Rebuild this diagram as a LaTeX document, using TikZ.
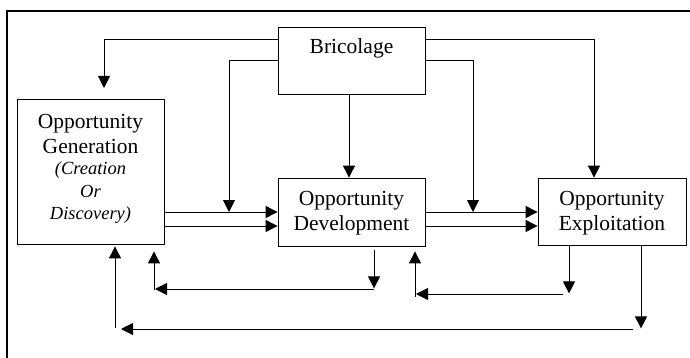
\documentclass[tikz,border=0pt]{standalone}
\usepackage{fontspec}
\setmainfont{Liberation Serif}
\usetikzlibrary{arrows.meta,calc}
\begin{document}
\begin{tikzpicture}[x=1pt,y=-1pt,
  box/.style={draw,line width=0.8pt,inner sep=0pt},
  txt/.style={font=\fontsize{21.5}{25}\selectfont,anchor=base,inner sep=0pt},
  itxt/.style={font=\fontsize{18.5}{22}\selectfont\itshape,anchor=base,inner sep=0pt},
  arr/.style={line width=0.9pt,-{Triangle[length=12pt,width=12pt]}}]
\useasboundingbox (0,0) rectangle (690,358);
\draw[line width=2pt] (7,358) -- (7,11) -- (690,11);
% boxes
\node[box,minimum width=147pt,minimum height=67pt] (bric) at (351.5,60.5) {};
\node[txt] (tbric) at (351.5,54) {Bricolage};
\node[box,minimum width=147pt,minimum height=145pt] (gen) at (90.5,171.5) {};
\node[txt] (tg1) at (90.5,129) {Opportunity};
\node[txt] (tg2) at (90.5,154) {Generation};
\node[itxt] (tg3) at (90.5,175) {(Creation};
\node[itxt] (tg4) at (90.5,197) {Or};
\node[itxt] (tg5) at (90.5,219) {Discovery)};
\node[box,minimum width=147pt,minimum height=68pt] (dev) at (351.5,212) {};
\node[txt] (td1) at (351.5,205) {Opportunity};
\node[txt] (td2) at (351.5,230) {Development};
\node[box,minimum width=148pt,minimum height=67pt] (exp) at (612,211.5) {};
\node[txt] (te1) at (612,205) {Opportunity};
\node[txt] (te2) at (612,230) {Exploitation};
% bricolage connectors
\coordinate (kG) at (104,88);
\coordinate (kGD) at (229,212);
\coordinate (kDE) at (473,212);
\draw[arr] ([yshift=-13pt]bric.north west) -| (kG);
\draw[arr] ([yshift=-34pt]bric.north west) -| (kGD);
\draw[arr] ([xshift=-2.5pt]bric.south) -- ([xshift=-2.5pt]dev.north);
\draw[arr] ([yshift=-13pt]bric.north east) -| ([xshift=-18pt]exp.north);
\draw[arr] ([yshift=-34pt]bric.north east) -| (kDE);
% forward double arrows
\draw[arr] (gen.east |- dev.west) -- (dev.west);
\draw[arr] ($(gen.east |- dev.west)+(0,14)$) -- ($(dev.west)+(0,14)$);
\draw[arr] (dev.east) -- (dev.east -| exp.west);
\draw[arr] ($(dev.east)+(0,14)$) -- ($(dev.east -| exp.west)+(0,14)$);
% feedback from development
\coordinate (f1a) at (374,289);
\coordinate (f1b) at (155,289);
\coordinate (f1c) at (154,290);
\draw[arr] ($(dev.south)+(22.5,4)$) -- ++(0,38);
\draw[arr] (f1a) -- (f1b);
\draw[arr] (f1c) -- ($(gen.south)+(63.5,7)$);
% feedback from exploitation to development
\coordinate (f2a) at (563,294);
\coordinate (f2b) at (416,294);
\coordinate (f2c) at (415,297);
\draw[arr] ($(exp.south)+(-43,0)$) -- ++(0,48);
\draw[arr] (f2a) -- (f2b);
\draw[arr] (f2c) -- ($(dev.south)+(63.5,5)$);
% feedback from exploitation to generation
\coordinate (f3a) at (633,329);
\coordinate (f3b) at (121,329);
\coordinate (f3c) at (115,328);
\draw[arr] ($(exp.south)+(29,0)$) -- ++(0,83);
\draw[arr] (f3a) -- (f3b);
\draw[arr] (f3c) -- ($(gen.south)+(24.5,2)$);
\end{tikzpicture}
\end{document}
